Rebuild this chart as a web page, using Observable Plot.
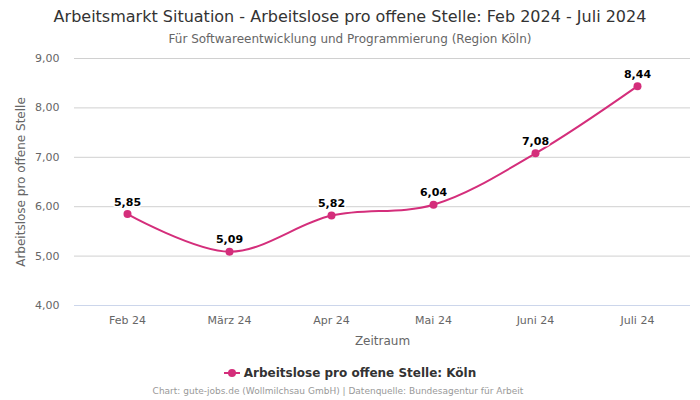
<!DOCTYPE html>
<html>
<head>
<meta charset="utf-8">
<script src="https://cdn.jsdelivr.net/npm/d3@7"></script>
<script src="https://cdn.jsdelivr.net/npm/@observablehq/plot@0.6"></script>
<style>
  body { margin: 0; background: #fff; font-family: "DejaVu Sans", sans-serif; }
  #wrap { position: relative; width: 700px; height: 400px; overflow: hidden; }
  .abs { position: absolute; left: 0; width: 700px; text-align: center; white-space: nowrap; }
  #title { top: 7px; font-size: 16px; color: #333; }
  #subtitle { top: 32px; font-size: 12px; color: #666; }
  #legend { top: 366px; font-size: 12px; font-weight: bold; color: #333; }
  #caption { top: 386px; left: -12px; font-size: 9px; color: #999; }
  #chart { position: absolute; left: 0; top: 0; }
</style>
</head>
<body>
<div id="wrap">
  <div id="chart"></div>
  <div class="abs" id="title">Arbeitsmarkt Situation - Arbeitslose pro offene Stelle: Feb 2024 - Juli 2024</div>
  <div class="abs" id="subtitle">Für Softwareentwicklung und Programmierung (Region Köln)</div>
  <div class="abs" id="legend"><svg width="16" height="10" style="vertical-align:-1px;margin-right:4px"><line x1="0" y1="5" x2="16" y2="5" stroke="#d42e7b" stroke-width="2"/><circle cx="8" cy="5" r="4" fill="#d42e7b"/></svg>Arbeitslose pro offene Stelle: Köln</div>
  <div class="abs" id="caption">Chart: gute-jobs.de (Wollmilchsau GmbH) | Datenquelle: Bundesagentur für Arbeit</div>
</div>
<script>
const months = ["Feb 24", "März 24", "Apr 24", "Mai 24", "Juni 24", "Juli 24"];
const values = [5.85, 5.09, 5.82, 6.04, 7.08, 8.44];
const yTicks = [4, 5, 6, 7, 8, 9];

const data = months.map((m, i) => ({month: m, value: values[i]}));
const fmt = v => d3.format(".2f")(v).replace(".", ",");
const color = "#d42e7b";

const chart = Plot.plot({
  width: 700,
  height: 400,
  marginTop: 58,
  marginBottom: 95,
  marginLeft: 74,
  marginRight: 10,
  style: {fontFamily: "DejaVu Sans, sans-serif", fontSize: "11px", color: "#666", background: "transparent"},
  x: {type: "point", domain: months, padding: 0.5, label: null},
  y: {domain: [4, 9], label: null},
  marks: [
    Plot.ruleY(yTicks, {stroke: "#d0d0d0", strokeWidth: 1}),
    Plot.ruleY([4], {stroke: "#ccd6eb", strokeWidth: 1}),
    Plot.axisY({ticks: yTicks, tickFormat: fmt, tickSize: 0, tickPadding: 15, fill: "#666", fontSize: 11, label: null}),
    Plot.axisX({tickSize: 0, tickPadding: 11, fill: "#666", fontSize: 11, label: null}),
    Plot.text(["Arbeitslose pro offene Stelle"], {frameAnchor: "left", textAnchor: "middle", rotate: -90, dx: -53, fill: "#666", fontSize: 12}),
    Plot.text(["Zeitraum"], {frameAnchor: "bottom", dy: 39, fill: "#666", fontSize: 12}),
    Plot.line(data, {x: "month", y: "value", stroke: color, strokeWidth: 2, curve: "catmull-rom"}),
    Plot.dot(data, {x: "month", y: "value", fill: color, r: 4}),
    Plot.text(data, {x: "month", y: "value", text: d => fmt(d.value), dy: -12, fill: "#000", fontWeight: "bold", fontSize: 11, stroke: "white", strokeWidth: 3, paintOrder: "stroke"})
  ]
});
document.getElementById("chart").appendChild(chart);
</script>
</body>
</html>
